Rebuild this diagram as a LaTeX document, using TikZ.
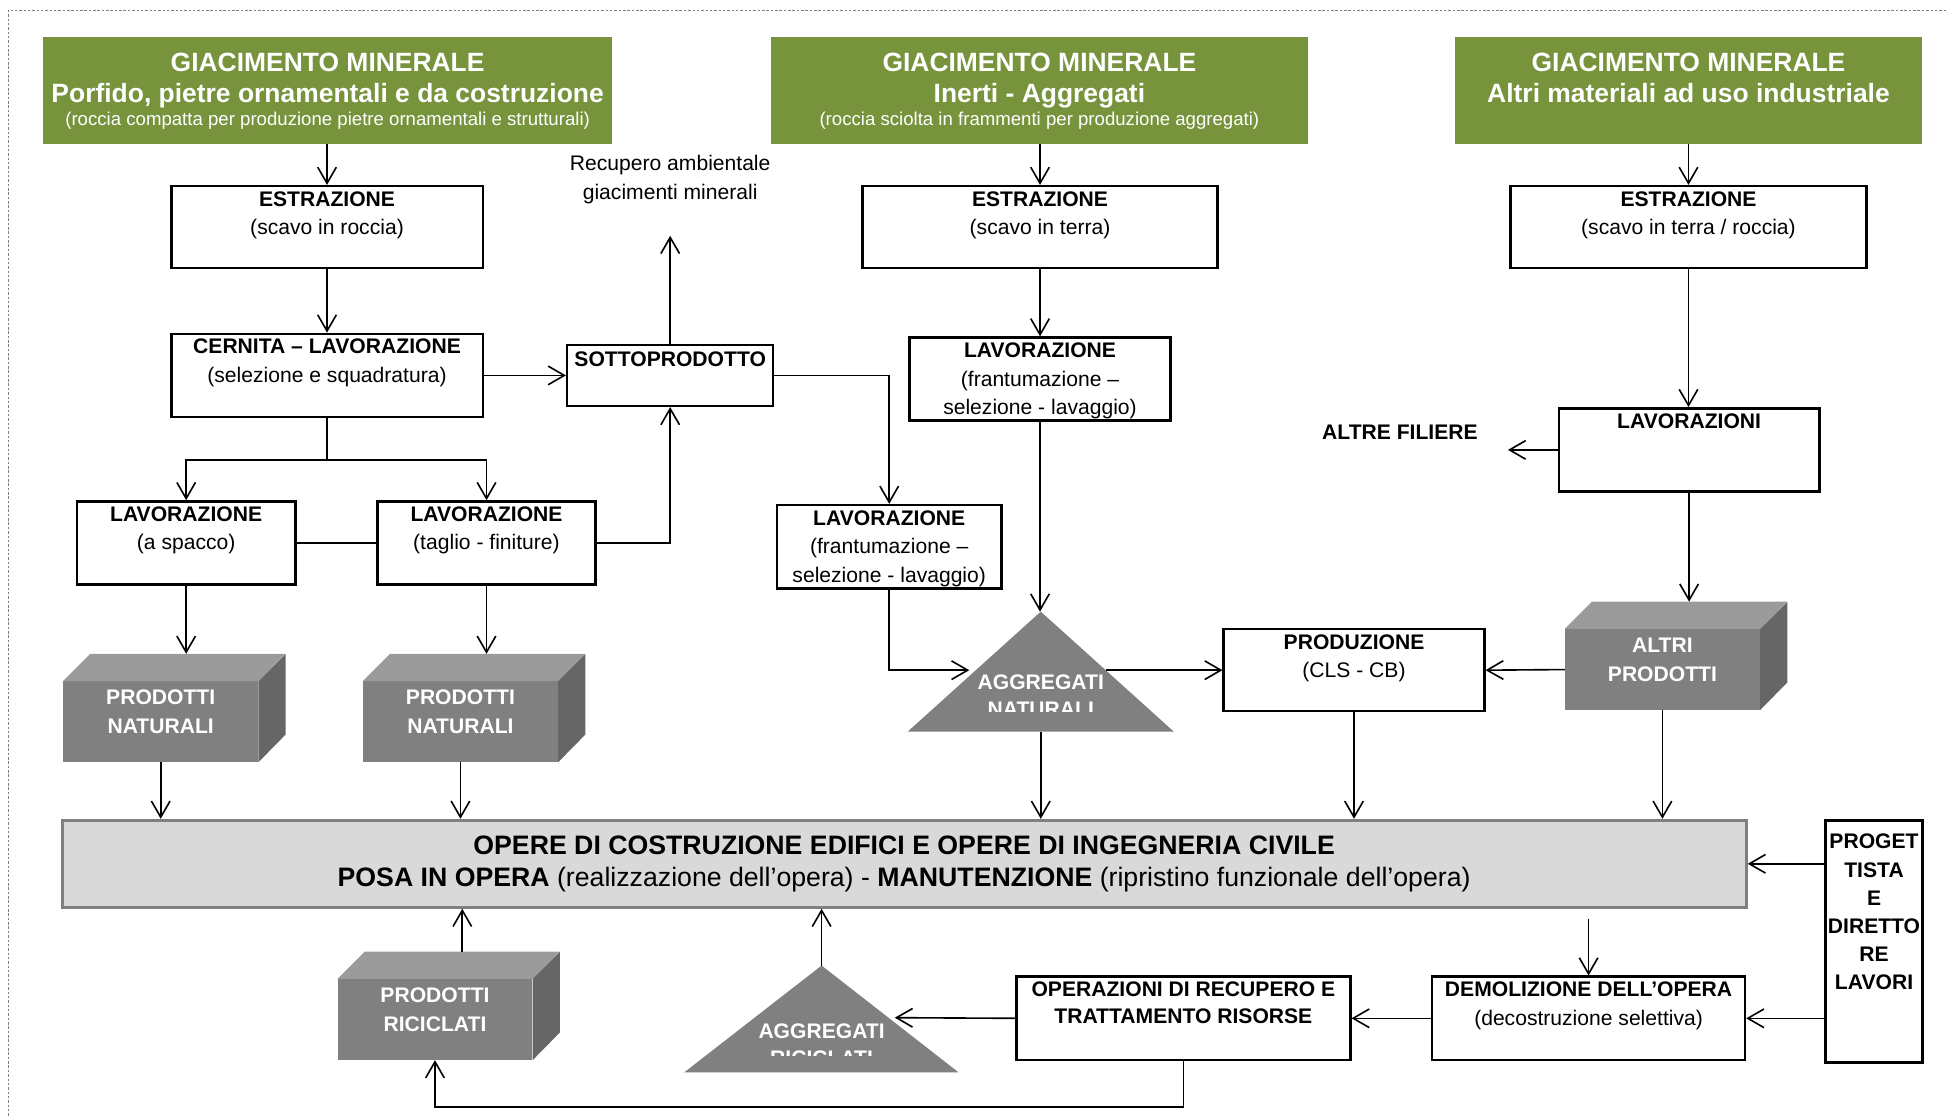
\documentclass[tikz,border=0pt]{standalone}
\usepackage{fontspec}
\setmainfont{Liberation Sans}
\usetikzlibrary{arrows.meta,calc}
\definecolor{verde}{RGB}{119,147,60}
\definecolor{grigiofronte}{RGB}{128,128,128}
\definecolor{grigiotop}{RGB}{155,155,155}
\definecolor{grigiolato}{RGB}{102,102,102}
\definecolor{grigiochiaro}{RGB}{217,217,217}
% blocco 3D: nome, centro faccia frontale, testo
\newcommand{\cubo}[3]{%
  \node[cubefront] (#1) at (#2) {};
  \fill[grigiotop] (#1.north west) -- ++(22,-22) -- ++(157,0) -- (#1.north east) -- cycle;
  \fill[grigiolato] (#1.north east) -- ++(22,-22) -- ++(0,65) -- (#1.south east) -- cycle;
  \coordinate (#1top) at ($(#1.north)+(22,-22)$);
  \node[cubetext] (#1t) at (#1.north) {#3};
}

\begin{document}
\begin{tikzpicture}[x=1pt,y=-1pt,
  every node/.style={font=\fontsize{17}{23}\selectfont, inner sep=0pt},
  box/.style 2 args={draw, line width=2pt, fill=white, minimum width=#1pt, minimum height=#2pt},
  titolo/.style 2 args={fill=verde, minimum width=#1pt, minimum height=#2pt},
  boxtext/.style={anchor=north, yshift=-5pt, align=center},
  titolotext/.style={anchor=north, yshift=-12.4pt, align=center, text=white, font=\fontsize{21.3}{25}\selectfont\bfseries},
  cubefront/.style={fill=grigiofronte, minimum width=157pt, minimum height=65pt},
  cubetext/.style={anchor=north, yshift=-7pt, align=center, text=white, font=\fontsize{17}{23.5}\selectfont\bfseries},
  tritext/.style={text=white, font=\fontsize{17}{21.5}\selectfont\bfseries},
  freccia/.style={-{Straight Barb[length=13pt,width=15pt]}, line width=1.3pt},
  linea/.style={line width=1.3pt}]
\useasboundingbox (0,0) rectangle (1568,899);
% cornice
\draw[gray, line width=0.6pt, dash pattern=on 2pt off 1.5pt] (7,899) -- (7,8) -- (1568,8);

% giacimenti
\node[titolo={458}{86}] (g1) at (264,73) {};
\node[titolotext] (g1t) at (g1.north) {GIACIMENTO MINERALE\\Porfido, pietre ornamentali e da costruzione\\[-6pt]{\fontsize{15}{18}\selectfont\mdseries (roccia compatta per produzione pietre ornamentali e strutturali)}};
\node[titolo={433}{86}] (g2) at (837.5,73) {};
\node[titolotext] (g2t) at (g2.north) {GIACIMENTO MINERALE\\Inerti - Aggregati\\[-6pt]{\fontsize{15}{18}\selectfont\mdseries (roccia sciolta in frammenti per produzione aggregati)}};
\node[titolo={377}{86}] (g3) at (1360.5,73) {};
\node[titolotext] (g3t) at (g3.north) {GIACIMENTO MINERALE\\Altri materiali ad uso industriale};

% filiera pietre
\node[box={251}{66}] (estr1) at (263.5,183) {};
\node[boxtext] (estr1t) at (estr1.north) {\textbf{ESTRAZIONE}\\(scavo in roccia)};
\node[box={251}{67}] (cern) at (263.5,302.5) {};
\node[boxtext] (cernt) at (cern.north) {\textbf{CERNITA – LAVORAZIONE}\\(selezione e squadratura)};
\node[box={166}{49}] (sotto) at (540,302.5) {};
\node[boxtext, yshift=-1.5pt] (sottot) at (sotto.north) {\textbf{SOTTOPRODOTTO}};
\node[align=center] (recup) at (540,144.5) {Recupero ambientale\\giacimenti minerali};
\coordinate (recupA) at (540,190);
\node[box={176}{67}] (lava) at (150,437.5) {};
\node[boxtext] (lavat) at (lava.north) {\textbf{LAVORAZIONE}\\(a spacco)};
\node[box={176}{67}] (lavt) at (392,437.5) {};
\node[boxtext] (lavtt) at (lavt.north) {\textbf{LAVORAZIONE}\\(taglio - finiture)};
\cubo{pn1}{129.5,581.5}{PRODOTTI\\NATURALI}
\cubo{pn2}{371,581.5}{PRODOTTI\\NATURALI}

% filiera aggregati
\node[box={286}{66}] (estr2) at (838,183) {};
\node[boxtext] (estr2t) at (estr2.north) {\textbf{ESTRAZIONE}\\(scavo in terra)};
\node[box={210}{67}] (lav3) at (838,305.5) {};
\node[boxtext] (lav3t) at (lav3.north) {\textbf{LAVORAZIONE}\\(frantumazione –\\selezione - lavaggio)};
\node[box={181}{67}] (lav4) at (716.5,440.5) {};
\node[boxtext] (lav4t) at (lav4.north) {\textbf{LAVORAZIONE}\\(frantumazione –\\selezione - lavaggio)};
\fill[grigiofronte] (838.6,492.8) coordinate (aggnA) -- (945.8,589.5) -- (731.4,589.5) -- cycle;
\coordinate (aggnB) at (838.6,589.5);
\coordinate (aggnL) at (781,540);
\coordinate (aggnR) at (891,540);
\node[tritext] (aggnt) at (838.6,550) {AGGREGATI};
\begin{scope}
  \clip (730,560) rectangle (946,573.5);
  \node[tritext] (aggnt2) at (838.6,571.5) {NATURALI};
\end{scope}
\node[box={210}{66}] (prod) at (1091,540) {};
\node[boxtext] (prodt) at (prod.north) {\textbf{PRODUZIONE}\\(CLS - CB)};

% filiera altri materiali
\node[box={287}{66}] (estr3) at (1360.5,183) {};
\node[boxtext] (estr3t) at (estr3.north) {\textbf{ESTRAZIONE}\\(scavo in terra / roccia)};
\node[box={210}{67}] (lavz) at (1361,362.5) {};
\node[boxtext] (lavzt) at (lavz.north) {\textbf{LAVORAZIONI}};
\node[font=\fontsize{17}{23}\selectfont\bfseries] (altre) at (1128,348.6) {ALTRE FILIERE};
\coordinate (altreA) at (1215,362.5);
\cubo{altri}{1339.5,539.5}{ALTRI\\PRODOTTI}

% opera e fine vita
\node[draw=grigiofronte, line width=2.5pt, fill=grigiochiaro, minimum width=1357pt, minimum height=70pt, align=center, font=\fontsize{21.5}{26}\selectfont] (opere) at (728.5,696) {\textbf{OPERE DI COSTRUZIONE EDIFICI E OPERE DI INGEGNERIA CIVILE}\\\textbf{POSA IN OPERA} (realizzazione dell’opera) - \textbf{MANUTENZIONE} (ripristino funzionale dell’opera)};
\node[box={78}{195}] (prog) at (1510,758.5) {};
\node[boxtext, yshift=-7pt, font=\fontsize{17}{22.6}\selectfont\bfseries] (progt) at (prog.north) {PROGET\\TISTA\\E\\DIRETTO\\RE\\LAVORI};
\node[box={252}{67}] (demol) at (1280,820.5) {};
\node[boxtext] (demolt) at (demol.north) {\textbf{DEMOLIZIONE DELL’OPERA}\\(decostruzione selettiva)};
\coordinate (demolA) at ($(opere.south -| demol.north)+(0,8)$);
\node[box={269}{67}] (oper) at (953.5,820.5) {};
\node[boxtext, font=\fontsize{17}{22}\selectfont\bfseries] (opert) at (oper.north) {OPERAZIONI DI RECUPERO E\\TRATTAMENTO RISORSE};
\fill[grigiofronte] (662,778) coordinate (aggrA) -- (772.3,864) -- (551.4,864) -- cycle;
\coordinate (aggrR) at (721,820);
\node[tritext] (aggrt) at (662,831) {AGGREGATI};
\begin{scope}
  \clip (550,840) rectangle (775,850.5);
  \node[tritext] (aggrt2) at (662,852.5) {RICICLATI};
\end{scope}
\cubo{pr}{350.5,821.5}{PRODOTTI\\RICICLATI}

% collegamenti
\draw[freccia] (g1.south -| estr1.north) -- (estr1.north);
\draw[freccia] (estr1) -- (cern);
\draw[freccia] (cern.east) -- (sotto.west);
\draw[freccia] (sotto.north) -- (recupA);
\draw[linea] (cern.south) -- ++(0,33.5) coordinate (split);
\draw[freccia] (split) -| (lava.north);
\draw[freccia] (split) -| (lavt.north);
\draw[linea] (lava.east) -- (lavt.west);
\draw[freccia] (lavt.east) -| (sotto.south);
\draw[freccia] (sotto.east) -| (lav4.north);
\draw[freccia] (lava.south) -- (lava.south |- pn1top);
\draw[freccia] (lavt.south) -- (lavt.south |- pn2top);
\draw[freccia] (pn1.south) -- (pn1.south |- opere.north);
\draw[freccia] (pn2.south) -- (pn2.south |- opere.north);

\draw[freccia] (g2.south -| estr2.north) -- (estr2.north);
\draw[freccia] (estr2) -- (lav3);
\draw[freccia] (lav3.south) -- (lav3.south |- aggnA);
\draw[freccia] (lav4.south) |- (aggnL);
\draw[freccia] (aggnR) -- (prod.west);
\draw[freccia] (aggnB) -- (aggnB |- opere.north);
\draw[freccia] (prod.south) -- (prod.south |- opere.north);

\draw[freccia] (g3.south -| estr3.north) -- (estr3.north);
\draw[freccia] (estr3.south) -- (estr3.south |- lavz.north);
\draw[freccia] (lavz.west) -- (altreA);
\draw[freccia] (lavz.south) -- (lavz.south |- altritop);
\draw[freccia] (altri.west) -- (prod.east);
\draw[freccia] (altri.south) -- (altri.south |- opere.north);

\draw[freccia] (prog.west |- opere.east) -- (opere.east);
\draw[freccia] (prog.west |- demol.east) -- (demol.east);
\draw[freccia] (demolA) -- (demol.north);
\draw[freccia] (demol.west) -- (oper.east);
\draw[freccia] (oper.west) -- (aggrR);
\draw[freccia] (aggrA) -- (aggrA |- opere.south);
\draw[freccia] (prtop) -- (prtop |- opere.south);
\draw[freccia] (oper.south) -- ++(0,37) -| (pr.south);
\end{tikzpicture}
\end{document}
